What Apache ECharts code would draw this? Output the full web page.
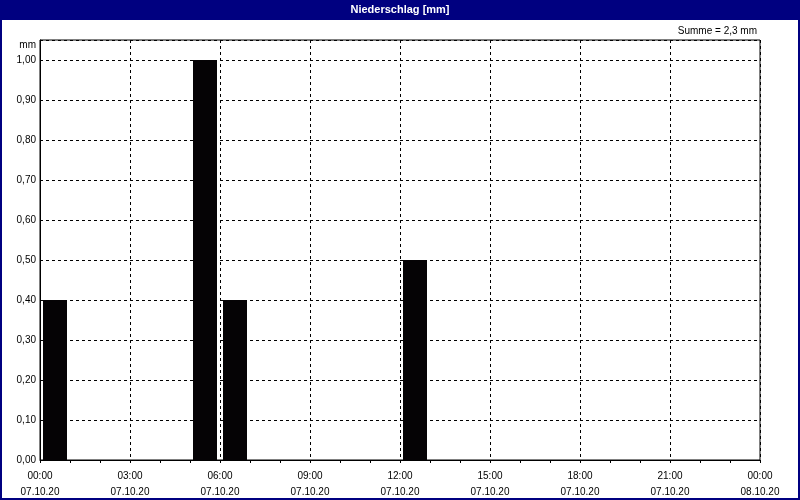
<!DOCTYPE html>
<html>
<head>
<meta charset="utf-8">
<script src="https://cdn.jsdelivr.net/npm/echarts@6/dist/echarts.min.js"></script>
<style>
html,body{margin:0;padding:0;background:#fff;}
#c{width:800px;height:500px;}
</style>
</head>
<body>
<div id="c"></div>
<script>
// Data: hourly precipitation on 07.10.20 (hour start, mm)
var hourStarts = [0, 5, 6, 12];
var values = [0.4, 1.0, 0.4, 0.5];
var xTickHours = [0, 3, 6, 9, 12, 15, 18, 21, 24];
var xTimeLabels = ['00:00', '03:00', '06:00', '09:00', '12:00', '15:00', '18:00', '21:00', '00:00'];
var xDateLabels = ['07.10.20', '07.10.20', '07.10.20', '07.10.20', '07.10.20', '07.10.20', '07.10.20', '07.10.20', '08.10.20'];
var titleText = 'Niederschlag [mm]';
var unitText = 'mm';

var FONT = 'Liberation Sans';
var sum = values.reduce(function (a, b) { return a + b; }, 0);
var sumText = 'Summe = ' + sum.toFixed(1).replace('.', ',') + ' mm';

var barData = hourStarts.map(function (h, i) { return [h + 0.5, values[i]]; });

var chart = echarts.init(document.getElementById('c'), null, { renderer: 'canvas' });
chart.setOption({
  animation: false,
  backgroundColor: '#fff',
  grid: {
    left: 40, right: 40, top: 40, bottom: 40,
    show: true, borderColor: '#000', borderWidth: 1, backgroundColor: 'transparent'
  },
  xAxis: {
    type: 'value',
    min: 0, max: 24, interval: 3,
    axisLine: { show: true, lineStyle: { color: '#000', width: 1 } },
    axisTick: { show: true, length: 3, lineStyle: { color: '#000' } },
    minorTick: { show: true, splitNumber: 3, length: 3, lineStyle: { color: '#000' } },
    splitLine: {
      show: true,
      lineStyle: { color: '#000', type: [3, 3], width: 1 }
    },
    axisLabel: {
      margin: 8,
      fontFamily: FONT, fontSize: 10, color: '#000', lineHeight: 16,
      showMinLabel: true, showMaxLabel: true,
      formatter: function (v) {
        var i = xTickHours.indexOf(Math.round(v));
        if (i < 0) return '';
        return xTimeLabels[i] + '\n' + xDateLabels[i];
      }
    }
  },
  yAxis: {
    type: 'value',
    min: 0, max: 1.05, interval: 0.1,
    axisLine: { show: true, lineStyle: { color: '#000', width: 1 } },
    axisTick: { show: false },
    splitLine: {
      show: true,
      lineStyle: { color: '#000', type: [3, 3], width: 1 }
    },
    axisLabel: {
      margin: 4,
      fontFamily: FONT, fontSize: 10, color: '#000',
      formatter: function (v) {
        if (Math.abs(v * 10 - Math.round(v * 10)) > 1e-6) return '';
        return v.toFixed(2).replace('.', ',');
      }
    }
  },
  series: [{
    type: 'bar',
    data: barData,
    barWidth: 24,
    itemStyle: { color: '#050305' },
    silent: true
  }],
  graphic: [
    { type: 'rect', left: 0, top: 0, z: 100, shape: { width: 800, height: 20 }, style: { fill: '#000080' } },
    { type: 'text', x: 400, y: 10, z: 101, style: { text: titleText, fill: '#fff', font: 'bold 11px "' + FONT + '"', align: 'center', verticalAlign: 'middle' } },
    { type: 'rect', z: 99, shape: { x: 1, y: 1, width: 798, height: 498 }, style: { fill: 'none', stroke: '#000080', lineWidth: 2 } },
    { type: 'text', x: 757, y: 31, z: 101, style: { text: sumText, fill: '#000', font: '10px "' + FONT + '"', align: 'right', verticalAlign: 'middle' } },
    { type: 'text', x: 36, y: 45, z: 101, style: { text: unitText, fill: '#000', font: '10px "' + FONT + '"', align: 'right', verticalAlign: 'middle' } }
  ]
});
</script>
</body>
</html>
